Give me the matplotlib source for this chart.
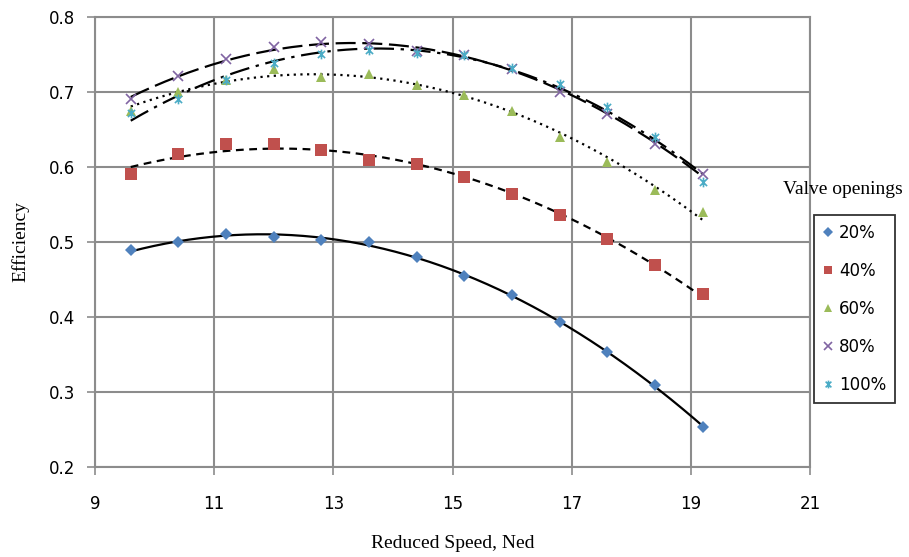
import numpy as np
import matplotlib
matplotlib.use("Agg")
import matplotlib.pyplot as plt
from matplotlib.path import Path

# --- data ---
SPEED = [9.6, 10.4, 11.2, 12.0, 12.8, 13.6, 14.4, 15.2, 16.0, 16.8, 17.6, 18.4, 19.2]
EFF_20 = [0.489, 0.500, 0.510, 0.506, 0.503, 0.500, 0.480, 0.455, 0.429, 0.393, 0.353, 0.309, 0.253]
EFF_40 = [0.590, 0.617, 0.630, 0.631, 0.622, 0.609, 0.604, 0.586, 0.564, 0.536, 0.504, 0.469, 0.430]
EFF_60 = [0.675, 0.700, 0.716, 0.730, 0.720, 0.724, 0.709, 0.696, 0.674, 0.640, 0.606, 0.569, 0.540]
EFF_80 = [0.690, 0.721, 0.744, 0.760, 0.766, 0.764, 0.754, 0.749, 0.731, 0.700, 0.670, 0.630, 0.591]
EFF_100 = [0.672, 0.691, 0.716, 0.738, 0.751, 0.756, 0.752, 0.749, 0.732, 0.711, 0.680, 0.640, 0.580]
LABELS = ["20%", "40%", "60%", "80%", "100%"]

# excel-ish star marker: an x plus a vertical bar
star = Path([(-1, -1), (1, 1), (-1, 1), (1, -1), (0, -1.35), (0, 1.35)],
            [Path.MOVETO, Path.LINETO, Path.MOVETO, Path.LINETO, Path.MOVETO, Path.LINETO])

series = [
    (EFF_20, "#4F81BD", "D", 6, "-"),
    (EFF_40, "#C0504D", "s", 8, (0, (3.5, 2.5))),
    (EFF_60, "#9BBB59", "^", 7.5, (0, (1, 2))),
    (EFF_80, "#8064A2", "x", 7, (0, (9, 3))),
    (EFF_100, "#4BACC6", star, 7, (0, (9, 3, 1.5, 3))),
]

fig = plt.figure(figsize=(9.09, 5.57), dpi=100)
ax = fig.add_axes([0.1045, 0.1616, 0.7866, 0.8079])

x = np.array(SPEED)
xs = np.linspace(x.min(), x.max(), 200)
for (vals, col, mk, ms, ls), lab in zip(series, LABELS):
    # polynomial trendline (order 2) like the spreadsheet did
    coef = np.polyfit(x, vals, 2)
    ax.plot(xs, np.polyval(coef, xs), color="black", linestyle=ls, linewidth=1.6, zorder=2)
    if mk in ("x",) or mk is star:
        ax.plot(x, vals, linestyle="none", marker=mk, markersize=ms, markeredgecolor=col,
                markerfacecolor="none", markeredgewidth=1.2, label=lab, zorder=3)
    else:
        ax.plot(x, vals, linestyle="none", marker=mk, markersize=ms, color=col,
                markeredgewidth=0, label=lab, zorder=3)

ax.set_xlim(9, 21)
ax.set_ylim(0.2, 0.8)
ax.set_xticks([9, 11, 13, 15, 17, 19, 21])
ax.set_yticks([0.2, 0.3, 0.4, 0.5, 0.6, 0.7, 0.8])
ax.set_yticklabels(["0.2", "0.3", "0.4", "0.5", "0.6", "0.7", "0.8"])
ax.grid(True, color="#8c8c8c", linewidth=1.5)
ax.set_axisbelow(True)
for sp in ax.spines.values():
    sp.set_color("#8c8c8c")
    sp.set_linewidth(1.5)
ax.tick_params(direction="out", length=6, width=1.2, color="#8c8c8c", labelsize=12, pad=8)
ax.tick_params(axis="x", pad=14)

serif = "Liberation Serif"
ax.set_xlabel("Reduced Speed, Ned", fontsize=14, family=serif, labelpad=16)
ax.set_ylabel("Efficiency", fontsize=14, family=serif, labelpad=14)

leg = fig.legend(loc="upper left", bbox_to_anchor=(814 / 909, 1 - 215 / 557), frameon=True,
                 fancybox=False, edgecolor="black", fontsize=12, handlelength=0.6,
                 handletextpad=0.35, labelspacing=1.2, borderpad=0.55, borderaxespad=0,
                 markerscale=0.8)
leg.get_frame().set_linewidth(1.3)
fig.text(843 / 909, 1 - 190 / 557, "Valve openings", fontsize=14, family=serif,
         ha="center", va="center")

fig.savefig("out.png", dpi=100)
